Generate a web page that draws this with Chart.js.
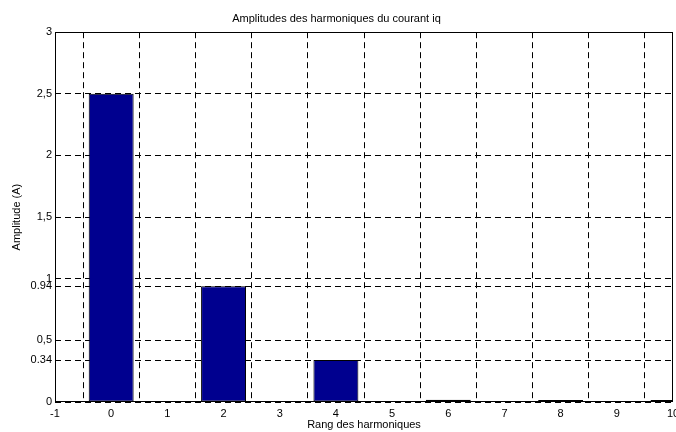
<!DOCTYPE html>
<html>
<head>
<meta charset="utf-8">
<script src="https://cdn.jsdelivr.net/npm/chart.js@4/dist/chart.umd.min.js"></script>
<style>
html, body { margin: 0; padding: 0; background: #fff; }
</style>
</head>
<body>
<canvas id="chart" width="676" height="432"></canvas>
<script>
// rang des harmoniques et amplitudes
const rangs = [0, 2, 4, 6, 8, 10]
const amplitudes = [2.5, 0.94, 0.34, 0.018, 0.008, 0.008]
const yTickValues = [0, 0.34, 0.5, 0.94, 1, 1.5, 2, 2.5, 3]
const yTickLabels = ['0', '0.34', '0,5', '0.94', '1', '1,5', '2', '2,5', '3']

const font = { family: '"Liberation Sans", Arial, sans-serif', size: 11 }

// cadre noir autour de la zone du tracé (style MATLAB)
const frame = {
	id: 'frame',
	afterDraw(chart) {
		const { ctx, chartArea: a } = chart
		ctx.save()
		ctx.strokeStyle = '#000'
		ctx.lineWidth = 1
		ctx.strokeRect(Math.round(a.left) + 0.5, Math.round(a.top) + 0.5,
			Math.round(a.right - a.left) - 1, Math.round(a.bottom - a.top) - 1)
		ctx.restore()
	}
}

new Chart(document.getElementById('chart'), {
	type: 'bar',
	data: {
		datasets: [{
			data: rangs.map((r, i) => ({ x: r, y: amplitudes[i] })),
			backgroundColor: '#00008f',
			borderColor: '#000',
			borderWidth: 1,
			borderSkipped: false,
			minBarLength: 2,
			barPercentage: 0.8,
			categoryPercentage: 1
		}]
	},
	options: {
		responsive: false,
		animation: false,
		layout: { padding: { right: 3, left: 0, bottom: 0, top: 0 } },
		plugins: {
			legend: { display: false },
			tooltip: { enabled: false },
			title: {
				display: true,
				text: 'Amplitudes des harmoniques du courant iq',
				color: '#000',
				font: { ...font, weight: 'normal' },
				padding: { top: 12, bottom: 7 }
			}
		},
		scales: {
			x: {
				type: 'linear',
				min: -1,
				max: 10,
				offset: false,
				ticks: { stepSize: 1, color: '#000', font, padding: 5, maxRotation: 0, autoSkip: false },
				grid: { color: '#000', lineWidth: 1, drawTicks: false },
				border: { display: false, dash: [6, 4] },
				title: { display: true, text: 'Rang des harmoniques', color: '#000', font, padding: { top: 0, bottom: 0 } },
				afterFit(s) { s.height = 30; s.paddingLeft = 0; s.paddingRight = 0 }
			},
			y: {
				min: 0,
				max: 3,
				afterBuildTicks(s) { s.ticks = yTickValues.map(v => ({ value: v })) },
				ticks: {
					color: '#000', font, padding: 3, autoSkip: false,
					callback: (v) => yTickLabels[yTickValues.indexOf(v)]
				},
				grid: { color: '#000', lineWidth: 1, drawTicks: false },
				border: { display: false, dash: [6, 4] },
				title: { display: true, text: 'Amplitude (A)', color: '#000', font, padding: { top: 10, bottom: 0 } },
				afterFit(s) { s.width = 55; s.paddingTop = 0; s.paddingBottom = 0 }
			}
		}
	},
	plugins: [frame]
})
</script>
</body>
</html>
